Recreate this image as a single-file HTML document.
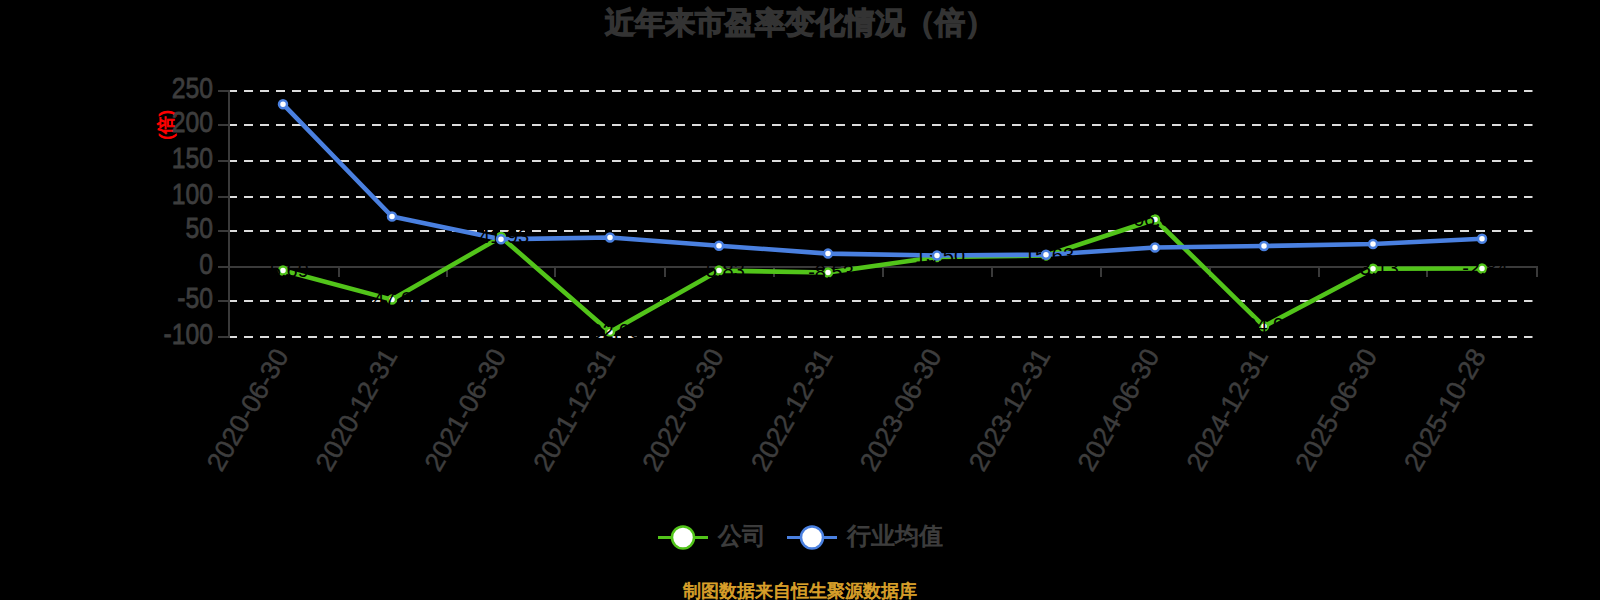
<!DOCTYPE html>
<html><head><meta charset="utf-8"><style>
html,body{margin:0;padding:0;background:#000;width:1600px;height:600px;overflow:hidden}
svg{display:block;font-family:"Liberation Sans", sans-serif}
.t{position:absolute;left:0;width:1600px;text-align:center;font-family:"Liberation Sans", sans-serif;white-space:nowrap}
</style></head><body>
<svg width="1600" height="600" viewBox="0 0 1600 600">
<rect width="1600" height="600" fill="#000"/>
<text x="800" y="22.5" text-anchor="middle" dominant-baseline="central" font-size="30" font-weight="bold" fill="#333" stroke="#333" stroke-width="1.3">近年来市盈率变化情况（倍）</text>
<line x1="228" y1="91.00" x2="1532.5" y2="91.00" stroke="#dcdcdc" stroke-width="2" stroke-dasharray="9 7"/>
<line x1="228" y1="125.00" x2="1532.5" y2="125.00" stroke="#dcdcdc" stroke-width="2" stroke-dasharray="9 7"/>
<line x1="228" y1="161.00" x2="1532.5" y2="161.00" stroke="#dcdcdc" stroke-width="2" stroke-dasharray="9 7"/>
<line x1="228" y1="197.00" x2="1532.5" y2="197.00" stroke="#dcdcdc" stroke-width="2" stroke-dasharray="9 7"/>
<line x1="228" y1="231.00" x2="1532.5" y2="231.00" stroke="#dcdcdc" stroke-width="2" stroke-dasharray="9 7"/>
<line x1="228" y1="301.00" x2="1532.5" y2="301.00" stroke="#dcdcdc" stroke-width="2" stroke-dasharray="9 7"/>
<line x1="228" y1="337.00" x2="1532.5" y2="337.00" stroke="#dcdcdc" stroke-width="2" stroke-dasharray="9 7"/>
<text transform="translate(166,125) rotate(-90)" text-anchor="middle" dominant-baseline="central" font-size="17.5" fill="#ff0000" stroke="#ff0000" stroke-width="0.9">(倍)</text>
<line x1="229" y1="90" x2="229" y2="338" stroke="#3a3a3a" stroke-width="2"/>
<line x1="218" y1="91.00" x2="229" y2="91.00" stroke="#3a3a3a" stroke-width="2"/>
<text transform="translate(213,88.30) scale(0.95,1.1)" text-anchor="end" dominant-baseline="central" font-size="26" fill="#3d3d3d" stroke="#3d3d3d" stroke-width="0.7">250</text>
<line x1="218" y1="125.00" x2="229" y2="125.00" stroke="#3a3a3a" stroke-width="2"/>
<text transform="translate(213,122.30) scale(0.95,1.1)" text-anchor="end" dominant-baseline="central" font-size="26" fill="#3d3d3d" stroke="#3d3d3d" stroke-width="0.7">200</text>
<line x1="218" y1="161.00" x2="229" y2="161.00" stroke="#3a3a3a" stroke-width="2"/>
<text transform="translate(213,158.30) scale(0.95,1.1)" text-anchor="end" dominant-baseline="central" font-size="26" fill="#3d3d3d" stroke="#3d3d3d" stroke-width="0.7">150</text>
<line x1="218" y1="197.00" x2="229" y2="197.00" stroke="#3a3a3a" stroke-width="2"/>
<text transform="translate(213,194.30) scale(0.95,1.1)" text-anchor="end" dominant-baseline="central" font-size="26" fill="#3d3d3d" stroke="#3d3d3d" stroke-width="0.7">100</text>
<line x1="218" y1="231.00" x2="229" y2="231.00" stroke="#3a3a3a" stroke-width="2"/>
<text transform="translate(213,228.30) scale(0.95,1.1)" text-anchor="end" dominant-baseline="central" font-size="26" fill="#3d3d3d" stroke="#3d3d3d" stroke-width="0.7">50</text>
<line x1="218" y1="267.00" x2="229" y2="267.00" stroke="#3a3a3a" stroke-width="2"/>
<text transform="translate(213,264.30) scale(0.95,1.1)" text-anchor="end" dominant-baseline="central" font-size="26" fill="#3d3d3d" stroke="#3d3d3d" stroke-width="0.7">0</text>
<line x1="218" y1="301.00" x2="229" y2="301.00" stroke="#3a3a3a" stroke-width="2"/>
<text transform="translate(213,298.30) scale(0.95,1.1)" text-anchor="end" dominant-baseline="central" font-size="26" fill="#3d3d3d" stroke="#3d3d3d" stroke-width="0.7">-50</text>
<line x1="218" y1="337.00" x2="229" y2="337.00" stroke="#3a3a3a" stroke-width="2"/>
<text transform="translate(213,334.30) scale(0.95,1.1)" text-anchor="end" dominant-baseline="central" font-size="26" fill="#3d3d3d" stroke="#3d3d3d" stroke-width="0.7">-100</text>
<line x1="228" y1="267" x2="1538" y2="267" stroke="#3a3a3a" stroke-width="2"/>
<line x1="339" y1="267" x2="339" y2="277" stroke="#3a3a3a" stroke-width="2"/>
<line x1="447" y1="267" x2="447" y2="277" stroke="#3a3a3a" stroke-width="2"/>
<line x1="555" y1="267" x2="555" y2="277" stroke="#3a3a3a" stroke-width="2"/>
<line x1="665" y1="267" x2="665" y2="277" stroke="#3a3a3a" stroke-width="2"/>
<line x1="774" y1="267" x2="774" y2="277" stroke="#3a3a3a" stroke-width="2"/>
<line x1="883" y1="267" x2="883" y2="277" stroke="#3a3a3a" stroke-width="2"/>
<line x1="992" y1="267" x2="992" y2="277" stroke="#3a3a3a" stroke-width="2"/>
<line x1="1101" y1="267" x2="1101" y2="277" stroke="#3a3a3a" stroke-width="2"/>
<line x1="1210" y1="267" x2="1210" y2="277" stroke="#3a3a3a" stroke-width="2"/>
<line x1="1319" y1="267" x2="1319" y2="277" stroke="#3a3a3a" stroke-width="2"/>
<line x1="1427" y1="267" x2="1427" y2="277" stroke="#3a3a3a" stroke-width="2"/>
<line x1="1537" y1="267" x2="1537" y2="277" stroke="#3a3a3a" stroke-width="2"/>
<text transform="translate(281.50,351) rotate(-60)" text-anchor="end" dominant-baseline="central" font-size="26.5" fill="#3d3d3d" stroke="#3d3d3d" stroke-width="0.5">2020-06-30</text>
<text transform="translate(390.35,351) rotate(-60)" text-anchor="end" dominant-baseline="central" font-size="26.5" fill="#3d3d3d" stroke="#3d3d3d" stroke-width="0.5">2020-12-31</text>
<text transform="translate(499.20,351) rotate(-60)" text-anchor="end" dominant-baseline="central" font-size="26.5" fill="#3d3d3d" stroke="#3d3d3d" stroke-width="0.5">2021-06-30</text>
<text transform="translate(608.05,351) rotate(-60)" text-anchor="end" dominant-baseline="central" font-size="26.5" fill="#3d3d3d" stroke="#3d3d3d" stroke-width="0.5">2021-12-31</text>
<text transform="translate(716.90,351) rotate(-60)" text-anchor="end" dominant-baseline="central" font-size="26.5" fill="#3d3d3d" stroke="#3d3d3d" stroke-width="0.5">2022-06-30</text>
<text transform="translate(825.75,351) rotate(-60)" text-anchor="end" dominant-baseline="central" font-size="26.5" fill="#3d3d3d" stroke="#3d3d3d" stroke-width="0.5">2022-12-31</text>
<text transform="translate(934.60,351) rotate(-60)" text-anchor="end" dominant-baseline="central" font-size="26.5" fill="#3d3d3d" stroke="#3d3d3d" stroke-width="0.5">2023-06-30</text>
<text transform="translate(1043.45,351) rotate(-60)" text-anchor="end" dominant-baseline="central" font-size="26.5" fill="#3d3d3d" stroke="#3d3d3d" stroke-width="0.5">2023-12-31</text>
<text transform="translate(1152.30,351) rotate(-60)" text-anchor="end" dominant-baseline="central" font-size="26.5" fill="#3d3d3d" stroke="#3d3d3d" stroke-width="0.5">2024-06-30</text>
<text transform="translate(1261.15,351) rotate(-60)" text-anchor="end" dominant-baseline="central" font-size="26.5" fill="#3d3d3d" stroke="#3d3d3d" stroke-width="0.5">2024-12-31</text>
<text transform="translate(1370.00,351) rotate(-60)" text-anchor="end" dominant-baseline="central" font-size="26.5" fill="#3d3d3d" stroke="#3d3d3d" stroke-width="0.5">2025-06-30</text>
<text transform="translate(1478.85,351) rotate(-60)" text-anchor="end" dominant-baseline="central" font-size="26.5" fill="#3d3d3d" stroke="#3d3d3d" stroke-width="0.5">2025-10-28</text>
<polyline points="283.00,270.50 392.00,299.60 501.00,237.00 610.00,331.90 719.00,270.60 828.00,272.50 937.00,257.00 1046.00,255.50 1155.00,219.50 1264.00,326.30 1373.00,268.70 1482.00,268.50" fill="none" stroke="#52c41a" stroke-width="4.6" stroke-linejoin="round" stroke-linecap="round"/>
<circle cx="283.00" cy="270.50" r="4" fill="#fff" stroke="#52c41a" stroke-width="2.5"/><circle cx="392.00" cy="299.60" r="4" fill="#fff" stroke="#52c41a" stroke-width="2.5"/><circle cx="501.00" cy="237.00" r="4" fill="#fff" stroke="#52c41a" stroke-width="2.5"/><circle cx="610.00" cy="331.90" r="4" fill="#fff" stroke="#52c41a" stroke-width="2.5"/><circle cx="719.00" cy="270.60" r="4" fill="#fff" stroke="#52c41a" stroke-width="2.5"/><circle cx="828.00" cy="272.50" r="4" fill="#fff" stroke="#52c41a" stroke-width="2.5"/><circle cx="937.00" cy="257.00" r="4" fill="#fff" stroke="#52c41a" stroke-width="2.5"/><circle cx="1046.00" cy="255.50" r="4" fill="#fff" stroke="#52c41a" stroke-width="2.5"/><circle cx="1155.00" cy="219.50" r="4" fill="#fff" stroke="#52c41a" stroke-width="2.5"/><circle cx="1264.00" cy="326.30" r="4" fill="#fff" stroke="#52c41a" stroke-width="2.5"/><circle cx="1373.00" cy="268.70" r="4" fill="#fff" stroke="#52c41a" stroke-width="2.5"/><circle cx="1482.00" cy="268.50" r="4" fill="#fff" stroke="#52c41a" stroke-width="2.5"/>
<polyline points="283.00,104.20 392.00,216.50 501.00,239.20 610.00,237.50 719.00,245.70 828.00,253.60 937.00,255.50 1046.00,254.70 1155.00,247.50 1264.00,246.00 1373.00,244.00 1482.00,238.80" fill="none" stroke="#4a80e0" stroke-width="4.6" stroke-linejoin="round" stroke-linecap="round"/>
<text x="286.00" y="269.50" text-anchor="middle" dominant-baseline="central" font-size="20" fill="#000">-5.69</text>
<text x="395.00" y="298.60" text-anchor="middle" dominant-baseline="central" font-size="20" fill="#000">-47.04</text>
<text x="504.00" y="236.00" text-anchor="middle" dominant-baseline="central" font-size="20" fill="#000">41.93</text>
<text x="613.00" y="330.90" text-anchor="middle" dominant-baseline="central" font-size="20" fill="#000">-92.95</text>
<text x="722.00" y="269.60" text-anchor="middle" dominant-baseline="central" font-size="20" fill="#000">-5.83</text>
<text x="831.00" y="271.50" text-anchor="middle" dominant-baseline="central" font-size="20" fill="#000">-8.53</text>
<text x="940.00" y="256.00" text-anchor="middle" dominant-baseline="central" font-size="20" fill="#000">13.50</text>
<text x="1049.00" y="254.50" text-anchor="middle" dominant-baseline="central" font-size="20" fill="#000">15.63</text>
<text x="1158.00" y="218.50" text-anchor="middle" dominant-baseline="central" font-size="20" fill="#000">66.80</text>
<text x="1267.00" y="325.30" text-anchor="middle" dominant-baseline="central" font-size="20" fill="#000">-84.99</text>
<text x="1376.00" y="267.70" text-anchor="middle" dominant-baseline="central" font-size="20" fill="#000">-3.13</text>
<text x="1485.00" y="267.50" text-anchor="middle" dominant-baseline="central" font-size="20" fill="#000">-2.84</text>
<circle cx="283.00" cy="104.20" r="4" fill="#fff" stroke="#4a80e0" stroke-width="2.5"/><circle cx="392.00" cy="216.50" r="4" fill="#fff" stroke="#4a80e0" stroke-width="2.5"/><circle cx="501.00" cy="239.20" r="4" fill="#fff" stroke="#4a80e0" stroke-width="2.5"/><circle cx="610.00" cy="237.50" r="4" fill="#fff" stroke="#4a80e0" stroke-width="2.5"/><circle cx="719.00" cy="245.70" r="4" fill="#fff" stroke="#4a80e0" stroke-width="2.5"/><circle cx="828.00" cy="253.60" r="4" fill="#fff" stroke="#4a80e0" stroke-width="2.5"/><circle cx="937.00" cy="255.50" r="4" fill="#fff" stroke="#4a80e0" stroke-width="2.5"/><circle cx="1046.00" cy="254.70" r="4" fill="#fff" stroke="#4a80e0" stroke-width="2.5"/><circle cx="1155.00" cy="247.50" r="4" fill="#fff" stroke="#4a80e0" stroke-width="2.5"/><circle cx="1264.00" cy="246.00" r="4" fill="#fff" stroke="#4a80e0" stroke-width="2.5"/><circle cx="1373.00" cy="244.00" r="4" fill="#fff" stroke="#4a80e0" stroke-width="2.5"/><circle cx="1482.00" cy="238.80" r="4" fill="#fff" stroke="#4a80e0" stroke-width="2.5"/>
<line x1="658" y1="537.5" x2="708" y2="537.5" stroke="#52c41a" stroke-width="3"/>
<circle cx="683" cy="537.5" r="11" fill="#fff" stroke="#52c41a" stroke-width="2.5"/>
<text x="718" y="535.5" dominant-baseline="central" font-size="24" fill="#3d3d3d" stroke="#3d3d3d" stroke-width="1">公司</text>
<line x1="787" y1="537.5" x2="837" y2="537.5" stroke="#4a80e0" stroke-width="3"/>
<circle cx="812" cy="537.5" r="11" fill="#fff" stroke="#4a80e0" stroke-width="2.5"/>
<text x="847" y="535.5" dominant-baseline="central" font-size="24" fill="#3d3d3d" stroke="#3d3d3d" stroke-width="1">行业均值</text>
<text x="800" y="590.5" text-anchor="middle" dominant-baseline="central" font-size="18" fill="#d9a02a" stroke="#d9a02a" stroke-width="0.8">制图数据来自恒生聚源数据库</text>
</svg>
</body></html>
